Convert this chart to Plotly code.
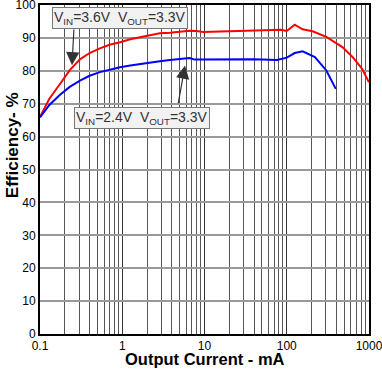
import plotly.graph_objects as go

# Vin = 3.6 V, Vout = 3.3 V
i_36 = [0.1, 0.13, 0.175, 0.23, 0.306, 0.4, 0.535, 0.7, 0.94, 1.25, 1.64, 2.2, 2.86, 3.8, 5.0, 6.6, 8.0, 9.6, 20, 40, 85, 100, 125, 156, 206, 303, 475, 630, 820, 1000]
e_36 = [66, 71.5, 76, 80.2, 83.5, 85.4, 86.8, 87.9, 88.7, 89.6, 90.2, 90.9, 91.4, 91.6, 91.8, 92.2, 92.1, 91.8, 92.0, 92.2, 92.5, 92.1, 94.0, 92.6, 92.0, 90.3, 87.2, 84.2, 80.7, 76.5]

# Vin = 2.4 V, Vout = 3.3 V
i_24 = [0.1, 0.13, 0.175, 0.23, 0.306, 0.4, 0.535, 0.7, 0.94, 1.25, 1.64, 2.2, 2.86, 3.8, 5.0, 6.6, 7.6, 12.7, 40, 76, 100, 125, 156, 220, 303, 395]
e_24 = [65.8, 69.6, 72.7, 75.1, 77, 78.5, 79.6, 80.4, 81.1, 81.6, 82.1, 82.5, 82.9, 83.3, 83.7, 83.9, 83.4, 83.5, 83.5, 83.3, 84.0, 85.4, 85.9, 84.2, 80.1, 74.5]

x_ticks = [0.1, 1, 10, 100, 1000]
x_labels = ["0.1", "1", "10", "100", "1000"]
y_ticks = list(range(0, 101, 10))

fig = go.Figure()
fig.add_trace(go.Scatter(x=i_36, y=e_36, mode="lines", line=dict(color="#ff0000", width=2)))
fig.add_trace(go.Scatter(x=i_24, y=e_24, mode="lines", line=dict(color="#0000ff", width=2)))

font = "Arial, Liberation Sans, sans-serif"
fig.update_layout(
    width=382, height=369,
    margin=dict(l=40, r=13, t=5, b=35),
    plot_bgcolor="white", paper_bgcolor="white",
    showlegend=False,
    font=dict(family=font, size=12, color="black"),
)
fig.update_xaxes(
    type="log", range=[-1, 3], automargin=False,
    tickvals=x_ticks, ticktext=x_labels, ticklabeloverflow="allow",
    showgrid=True, gridcolor="#333333", gridwidth=1,
    minor=dict(dtick="D1", showgrid=True, gridcolor="#555555", gridwidth=1, ticks=""),
    showline=True, linecolor="black", linewidth=2, mirror=True,
    ticks="", ticklabelstandoff=0,
    zeroline=False,
)
fig.update_yaxes(
    range=[0, 100], tickvals=y_ticks, automargin=False, ticklabeloverflow="allow",
    showgrid=True, gridcolor="#999999", gridwidth=1.5,
    showline=True, linecolor="black", linewidth=2, mirror=True,
    ticks="", zeroline=False,
)

fig.add_annotation(
    text="<b>Output Current - mA</b>", xref="paper", yref="paper",
    x=0.5, y=-0.106, xanchor="center", yanchor="bottom", showarrow=False,
    font=dict(size=16.5, family=font), borderpad=0,
)
fig.add_annotation(
    text="<b>Efficiency- %</b>", textangle=-90, xref="paper", yref="paper",
    x=-0.085, y=0.574, xanchor="center", yanchor="middle", showarrow=False,
    font=dict(size=17, family=font),
)

box_style = dict(bgcolor="#f2f2f2", bordercolor="#777777", borderwidth=1, borderpad=1,
                 font=dict(size=14, family=font, color="#333333"), showarrow=False)
fig.add_annotation(text="V<sub>IN</sub>=3.6V  V<sub>OUT</sub>=3.3V", xref="x", yref="y",
                   x=-0.033, y=95.9, xanchor="center", yanchor="middle", **box_style)
fig.add_annotation(text="V<sub>IN</sub>=2.4V  V<sub>OUT</sub>=3.3V", xref="x", yref="y",
                   x=0.24, y=65.6, xanchor="center", yanchor="middle", **box_style)

# arrows
fig.add_annotation(x=-0.611, y=81.7, ax=-0.587, ay=93.0, xref="x", yref="y", axref="x", ayref="y",
                   text="", showarrow=True, arrowhead=2, arrowsize=2.2, arrowwidth=1.2, arrowcolor="#333333")
fig.add_annotation(x=0.763, y=81.6, ax=0.678, ay=69.7, xref="x", yref="y", axref="x", ayref="y",
                   text="", showarrow=True, arrowhead=2, arrowsize=2.2, arrowwidth=1.2, arrowcolor="#333333")

fig.write_html("out.html", config={"displayModeBar": False},
               post_script="document.body.style.margin='0';document.body.style.overflow='hidden';")
